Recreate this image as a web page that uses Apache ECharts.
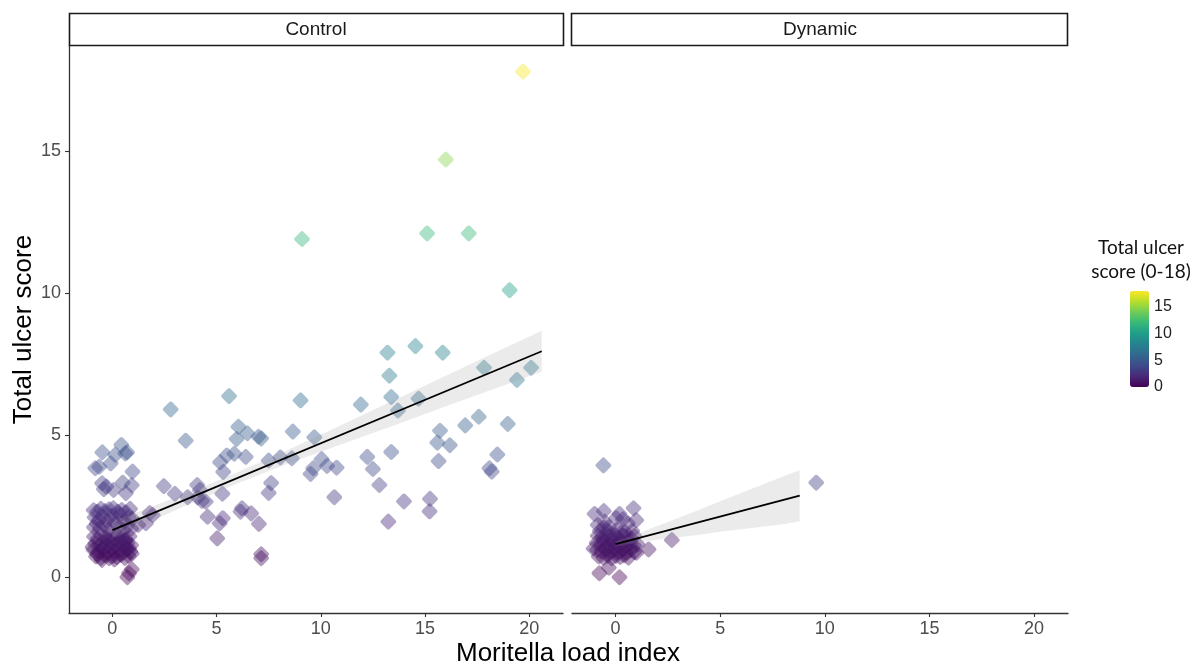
<!DOCTYPE html>
<html>
<head>
<meta charset="utf-8">
<script src="https://cdn.jsdelivr.net/npm/echarts@6/dist/echarts.min.js"></script>
<style>
html,body{margin:0;padding:0;background:#fff;}
#chart{width:1192px;height:666px;}
</style>
</head>
<body>
<div id="chart"></div>
<script>
// ---------- data ----------
const panelNames = ['Control', 'Dynamic'];
const xTicks = [0, 5, 10, 15, 20];
const yTicks = [0, 5, 10, 15];
const legendTicks = [0, 5, 10, 15];
const xTitle = 'Moritella load index';
const yTitle = 'Total ulcer score';
const legendTitle = 'Total ulcer\nscore (0-18)';

// Control: [Moritella load index, Total ulcer score]
const controlCluster = [
  [-0.88,1.42],[-0.7,1.35],[-0.52,1.45],[-0.3,1.38],[-0.12,1.44],[0.08,1.36],[0.27,1.47],[0.46,1.4],[0.63,1.33],[0.82,1.43],
  [-0.82,1.18],[-0.6,1.12],[-0.41,1.22],[-0.22,1.1],[-0.03,1.2],[0.15,1.14],[0.35,1.24],[0.55,1.09],[0.72,1.19],[0.9,1.12],
  [-0.9,0.95],[-0.66,0.9],[-0.48,0.99],[-0.28,0.88],[-0.1,0.97],[0.1,0.9],[0.3,0.96],[0.5,0.86],[0.68,0.98],[0.86,0.9],
  [-0.78,0.72],[-0.55,0.68],[-0.35,0.76],[-0.15,0.66],[0.03,0.74],[0.22,0.7],[0.42,0.78],[0.6,0.67],[0.78,0.75],[0.93,0.82],
  [-0.95,1.05],[-0.38,1.05],[0.22,1.02],[0.62,1.28],[-0.72,0.8],[0.4,1.3],[-0.2,1.3],[0.8,1.0],[-0.5,0.6],[0.1,0.62],
  [-0.9,2.35],[-0.72,2.3],[-0.55,2.4],[-0.35,2.32],[-0.15,2.38],[0.05,2.42],[0.25,2.3],[0.45,2.36],[0.65,2.28],[0.85,2.4],
  [-0.85,2.1],[-0.65,2.0],[-0.45,2.12],[-0.25,1.98],[-0.05,2.15],[0.18,2.05],[0.38,2.18],[0.58,1.96],[0.78,2.1],[0.95,2.05],
  [-0.88,1.75],[-0.6,1.7],[-0.4,1.82],[-0.18,1.68],[0.3,1.75],[0.52,1.65],[0.72,1.8],[0.9,1.7],[-0.75,1.88],[0.12,1.9],
  [-0.48,4.39],[-0.08,4.0],[0.14,4.3],[0.43,4.65],[0.71,4.39],[0.62,4.35],[-0.82,3.83],[-0.63,3.88],[0.97,3.71],
  [-0.49,3.3],[-0.41,3.09],[-0.29,3.18],[0.06,3.06],[0.5,3.32],[0.93,3.23],[0.65,2.95],
  [0.8,0.13],[0.72,-0.01],[0.93,0.27]
];
const controlSpread = [
  [19.7,17.8],[16.0,14.7],[9.1,11.9],[15.1,12.1],[17.1,12.1],[19.06,10.1],
  [13.2,7.9],[14.54,8.13],[15.85,7.9],[13.29,7.09],[17.83,7.37],[20.09,7.37],[19.41,6.94],
  [5.6,6.37],[2.8,5.9],[9.03,6.22],[11.92,6.07],[13.38,6.34],[14.69,6.28],[13.7,5.86],
  [3.52,4.8],[6.05,5.29],[5.96,4.86],[6.48,5.06],[7.01,4.94],[7.14,4.88],[8.66,5.12],[9.69,4.92],
  [16.93,5.34],[17.58,5.64],[18.97,5.39],[15.72,5.15],[15.59,4.73],[16.19,4.64],[13.38,4.4],[15.65,4.08],
  [18.47,4.31],[18.09,3.83],[18.2,3.71],
  [12.23,4.23],[12.5,3.8],[12.81,3.24],[10.65,2.81],[13.99,2.66],[15.24,2.75],[15.22,2.31],[13.24,1.95],
  [10.04,4.15],[10.3,3.91],[10.76,3.85],[9.51,3.63],[9.64,3.83],[8.61,4.18],[8.06,4.21],[7.5,4.1],
  [6.4,4.23],[5.85,4.34],[5.49,4.28],[5.17,4.04],[5.32,3.7],
  [7.62,3.31],[7.5,2.96],[5.28,2.93],[4.07,3.24],[4.2,3.06],[2.47,3.2],[3.0,2.93],[3.61,2.81],[4.1,2.8],[4.3,2.68],[4.48,2.65],
  [4.57,2.12],[5.3,2.07],[5.15,1.89],[5.03,1.36],[6.15,2.3],[6.22,2.42],[6.66,2.24],[7.03,1.87],[7.14,0.8],[7.14,0.66],
  [1.94,2.18],[1.79,2.25],[1.61,1.89],[1.24,1.83]
];
const dynamicPoints = [
  [-0.85,1.45],[-0.65,1.4],[-0.45,1.5],[-0.25,1.42],[-0.05,1.48],[0.15,1.38],[0.35,1.46],[0.55,1.4],[0.75,1.35],[0.9,1.44],
  [-0.9,1.2],[-0.7,1.15],[-0.5,1.25],[-0.3,1.1],[-0.1,1.22],[0.1,1.12],[0.3,1.2],[0.5,1.08],[0.7,1.18],[0.88,1.1],
  [-0.88,0.95],[-0.68,0.9],[-0.48,0.98],[-0.28,0.86],[-0.08,0.95],[0.12,0.88],[0.32,0.97],[0.52,0.85],[0.72,0.94],[0.9,0.88],
  [-0.8,0.72],[-0.58,0.68],[-0.38,0.75],[-0.18,0.66],[0.02,0.74],[0.22,0.7],[0.42,0.76],[0.62,0.68],
  [-0.6,1.3],[-0.2,1.3],[0.2,1.28],[0.6,1.25],[-0.4,1.05],[0.0,1.05],[0.4,1.02],
  [-0.75,1.62],[-0.35,1.6],[0.05,1.65],[0.45,1.58],[0.8,1.62],[-0.55,1.75],[0.25,1.55],
  [1.05,1.15],[1.0,0.85],[-1.05,1.0],
  [-1.0,2.22],[-0.56,2.32],[0.19,2.22],[0.86,2.42],[0.35,2.03],[0.99,2.0],[-0.53,1.95],[-0.85,1.83],[0.59,1.89],[0.03,2.07],[-0.32,1.75],
  [2.69,1.3],[1.58,0.97],[-0.77,0.13],[-0.32,0.33],[0.19,-0.01],[-0.58,3.93],[9.59,3.32]
];

// fitted lines and confidence bands
const controlFitX = [0, 20.6];
const controlFitY = [1.65, 7.95];
const controlBandX  = [0, 2, 4, 6, 8, 10, 12, 14, 16, 18, 20.6];
const controlBandLo = [1.35, 2.01, 2.67, 3.29, 3.87, 4.41, 4.94, 5.47, 6.01, 6.54, 7.23];
const controlBandHi = [1.95, 2.51, 3.07, 3.69, 4.33, 5.01, 5.70, 6.39, 7.09, 7.78, 8.67];

const dynamicFitX = [0, 8.8];
const dynamicFitY = [1.16, 2.86];
const dynamicBandX  = [0, 1, 2, 3, 4, 5, 6, 7, 8, 8.8];
const dynamicBandLo = [1.06, 1.20, 1.31, 1.40, 1.49, 1.59, 1.68, 1.77, 1.86, 1.96];
const dynamicBandHi = [1.26, 1.50, 1.79, 2.08, 2.37, 2.67, 2.96, 3.25, 3.54, 3.76];

const viridis = ['#440154','#482878','#3E4A89','#31688E','#26828E','#1F9E89','#35B779','#6DCD59','#B4DE2C','#FDE725'];

// ---------- layout ----------
const P0 = {left: 69, top: 46, width: 494, height: 567};
const P1 = {left: 572, top: 46, width: 496, height: 567};
const XMIN = -2.08, XMAX = 21.62, YMIN = -1.27, YMAX = 18.7;
const FONT = 'Liberation Sans, Arial, sans-serif';
const DIAMOND = 'path://M8.4,1.6 Q10,0 11.6,1.6 L18.4,8.4 Q20,10 18.4,11.6 L11.6,18.4 Q10,20 8.4,18.4 L1.6,11.6 Q0,10 1.6,8.4 Z';

function zip(xs, ys) { return xs.map((x, i) => [x, ys[i]]); }

function bandSeries(idx, bx, lo, hi) {
  return {
    type: 'custom', xAxisIndex: idx, yAxisIndex: idx, z: 3, silent: true,
    data: [[bx[0], lo[0]]],
    renderItem: function (params, api) {
      const pts = [];
      for (let i = 0; i < bx.length; i++) pts.push(api.coord([bx[i], hi[i]]));
      for (let i = bx.length - 1; i >= 0; i--) pts.push(api.coord([bx[i], lo[i]]));
      return {type: 'polygon', shape: {points: pts}, style: {fill: 'rgba(153,153,153,0.2)'}};
    }
  };
}

function fitSeries(idx, fx, fy) {
  return {
    type: 'line', xAxisIndex: idx, yAxisIndex: idx, z: 4, silent: true,
    data: zip(fx, fy), symbol: 'none',
    lineStyle: {color: '#000', width: 1.8}
  };
}

function scatterSeries(idx, pts) {
  return {
    type: 'scatter', xAxisIndex: idx, yAxisIndex: idx, z: 2,
    data: pts, symbol: DIAMOND, symbolSize: 16,
    itemStyle: {opacity: 0.42}
  };
}

function xAxisDef(gi) {
  return {
    type: 'value', gridIndex: gi, min: XMIN, max: XMAX,
    splitLine: {show: false},
    axisLine: {show: true, onZero: false, lineStyle: {color: '#333', width: 1.3}},
    axisTick: {show: true, length: 4, customValues: xTicks, lineStyle: {color: '#333', width: 1.1}},
    axisLabel: {customValues: xTicks, color: '#4d4d4d', fontSize: 18, fontFamily: FONT, margin: 7}
  };
}

const option = {
  backgroundColor: '#fff',
  animation: false,
  grid: [
    {left: P0.left, top: P0.top, width: P0.width, height: P0.height},
    {left: P1.left, top: P1.top, width: P1.width, height: P1.height},
    {left: 1130, top: 291, width: 19, height: 96}
  ],
  xAxis: [
    xAxisDef(0),
    xAxisDef(1),
    {type: 'value', gridIndex: 2, min: 0, max: 1, show: false}
  ],
  yAxis: [
    {
      type: 'value', gridIndex: 0, min: YMIN, max: YMAX,
      splitLine: {show: false},
      axisLine: {show: true, onZero: false, lineStyle: {color: '#333', width: 1.3}},
      axisTick: {show: true, length: 4, customValues: yTicks, lineStyle: {color: '#333', width: 1.1}},
      axisLabel: {customValues: yTicks, color: '#4d4d4d', fontSize: 18, fontFamily: FONT, margin: 8},
      name: yTitle, nameLocation: 'middle', nameRotate: 90, nameGap: 31,
      nameTextStyle: {fontSize: 26, fontFamily: FONT, color: '#000'}
    },
    {
      type: 'value', gridIndex: 1, min: YMIN, max: YMAX,
      splitLine: {show: false}, axisLine: {show: false}, axisTick: {show: false}, axisLabel: {show: false}
    },
    {
      type: 'value', gridIndex: 2, min: 0, max: 18, position: 'right',
      splitLine: {show: false}, axisLine: {show: false},
      axisTick: {show: true, inside: true, length: 4, customValues: legendTicks, lineStyle: {color: '#fff', width: 1}},
      axisLabel: {customValues: legendTicks, color: '#222', fontSize: 16, fontFamily: FONT, margin: 5}
    },
    {
      type: 'value', gridIndex: 2, min: 0, max: 18, position: 'left',
      splitLine: {show: false}, axisLine: {show: false},
      axisTick: {show: true, inside: true, length: 4, customValues: legendTicks, lineStyle: {color: '#fff', width: 1}},
      axisLabel: {show: false}
    }
  ],
  visualMap: {
    type: 'continuous', min: 0, max: 18, dimension: 1, seriesIndex: [0, 1],
    calculable: false, realtime: false, hoverLink: false,
    inRange: {color: viridis},
    left: 1130, top: 291, itemWidth: 19, itemHeight: 96, padding: 0,
    orient: 'vertical', text: null, showLabel: false
  },
  graphic: [
    {type: 'rect', shape: {x: P0.left + 0.5, y: 13.5, width: P0.width, height: 32}, style: {fill: '#fff', stroke: '#1a1a1a', lineWidth: 1.6}, z: 10},
    {type: 'text', x: P0.left + P0.width / 2, y: 30, style: {text: panelNames[0], fontSize: 19, fontFamily: FONT, fill: '#1a1a1a', align: 'center', verticalAlign: 'middle'}, z: 11},
    {type: 'rect', shape: {x: P1.left - 0.5, y: 13.5, width: P1.width, height: 32}, style: {fill: '#fff', stroke: '#1a1a1a', lineWidth: 1.6}, z: 10},
    {type: 'text', x: P1.left + P1.width / 2, y: 30, style: {text: panelNames[1], fontSize: 19, fontFamily: FONT, fill: '#1a1a1a', align: 'center', verticalAlign: 'middle'}, z: 11},
    {type: 'text', x: 568, y: 654, style: {text: xTitle, fontSize: 26, fontFamily: FONT, fill: '#000', align: 'center', verticalAlign: 'middle'}},
    {type: 'text', x: 1141, y: 260, style: {text: legendTitle, fontSize: 19, lineHeight: 24, fontFamily: 'Lato, Open Sans, sans-serif', fill: '#111', align: 'center', verticalAlign: 'middle'}}
  ],
  series: [
    scatterSeries(0, controlCluster.concat(controlSpread)),
    scatterSeries(1, dynamicPoints),
    bandSeries(0, controlBandX, controlBandLo, controlBandHi),
    bandSeries(1, dynamicBandX, dynamicBandLo, dynamicBandHi),
    fitSeries(0, controlFitX, controlFitY),
    fitSeries(1, dynamicFitX, dynamicFitY)
  ]
};

const chart = echarts.init(document.getElementById('chart'), null, {renderer: 'canvas'});
chart.setOption(option);
</script>
</body>
</html>
